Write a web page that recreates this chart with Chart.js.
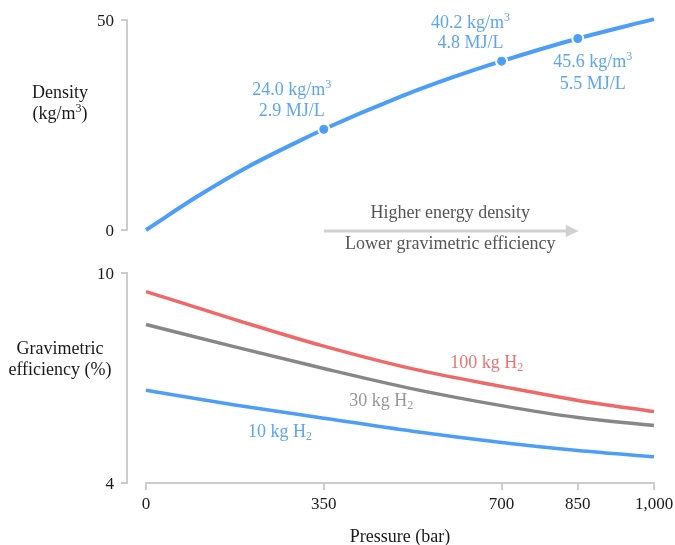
<!DOCTYPE html>
<html>
<head>
<meta charset="utf-8">
<title>Hydrogen storage pressure</title>
<script src="https://cdn.jsdelivr.net/npm/chart.js@4.4.1/dist/chart.umd.min.js"></script>
<style>
  html, body { margin: 0; padding: 0; background: #fff; }
  #wrap { position: relative; width: 675px; height: 545px; }
  #chartDensity { position: absolute; left: 0; top: 0; }
  #chartGrav    { position: absolute; left: 0; top: 260px; }
</style>
</head>
<body>
<div id="wrap">
  <canvas id="chartDensity" width="675" height="260"></canvas>
  <canvas id="chartGrav" width="675" height="285"></canvas>
</div>
<script>
// ── DATA ─────────────────────────────────────────
const pressure    = [0, 100, 200, 300, 350, 500, 600, 700, 850, 1000];
const density     = [0, 7.9, 15.0, 21.1, 24.0, 31.7, 36.2, 40.2, 45.6, 50.2];
const markP       = [350, 700, 850];
const markDensity = [24.0, 40.2, 45.6];
const markEnergy  = [2.9, 4.8, 5.5];

const gravP   = [0, 175, 350, 525, 700, 850, 1000];
const grav100 = [9.47, 8.67, 7.91, 7.26, 6.76, 6.36, 6.04];
const grav30  = [8.53, 7.89, 7.27, 6.69, 6.21, 5.87, 5.64];
const grav10  = [6.65, 6.23, 5.85, 5.48, 5.16, 4.93, 4.75];
const seriesNames = ['100 kg', '30 kg', '10 kg'];

const xTicks       = [0, 350, 700, 850, 1000];
const densityTicks = [0, 50];
const gravTicks    = [4, 10];
const arrowSpan    = [350, 852];

// ── STYLE ────────────────────────────────────────
const FONT  = '"Liberation Serif", "DejaVu Serif", serif';
const MAIN  = '18px ' + FONT;
const SMALL = '12px ' + FONT;
const C = {
  blue: '#4d9ef7', blueTxt: '#5ba5f5',
  red: '#f06868',  redTxt: '#f07171',
  gray: '#878787', grayTxt: '#969696',
  axis: '#cccccc', arrow: '#d0d0d0', arrowTxt: '#555555', tick: '#1a1a1a',
};
Chart.defaults.font.family = FONT;
Chart.defaults.color = C.tick;

const xy = (xs, ys) => xs.map((x, i) => ({ x, y: ys[i] }));

// tulisan dengan superscript / subscript
function drawRich(ctx, parts, x, y, color) {
  ctx.save();
  ctx.fillStyle = color;
  ctx.textBaseline = 'alphabetic';
  ctx.textAlign = 'left';
  let w = 0;
  parts.forEach(p => { ctx.font = p.s ? SMALL : MAIN; w += ctx.measureText(p.t).width; });
  let cx = x - w / 2;
  parts.forEach(p => {
    ctx.font = p.s ? SMALL : MAIN;
    const dy = p.s === 'sup' ? -7.5 : p.s === 'sub' ? 3 : 0;
    ctx.fillText(p.t, cx, y + dy);
    cx += ctx.measureText(p.t).width;
  });
  ctx.restore();
}

// garis sumbu Y yang digeser ke kiri dari area plot
const offsetYAxis = {
  id: 'offsetYAxis',
  afterDraw(chart) {
    const { ctx, chartArea, scales: { y } } = chart;
    const ax = chartArea.left - 19;
    ctx.save();
    ctx.strokeStyle = C.axis;
    ctx.lineWidth = 2;
    ctx.beginPath();
    ctx.moveTo(ax, y.getPixelForValue(y.max) - 1);
    ctx.lineTo(ax, y.getPixelForValue(y.min) + 1);
    y.ticks.forEach(t => {
      const py = y.getPixelForValue(t.value);
      ctx.moveTo(ax - 6, py);
      ctx.lineTo(ax, py);
    });
    ctx.stroke();
    ctx.restore();
  }
};

function sideTitle(lines, baselines) {
  return {
    id: 'sideTitle',
    afterDraw(chart) {
      const cx = chart.chartArea.left - 86;
      lines.forEach((parts, i) => drawRich(chart.ctx, parts, cx, baselines[i], C.tick));
    }
  };
}

function yScale(min, max, ticks) {
  return {
    min, max,
    afterFit: s => { s.width = 146; s.paddingTop = 0; s.paddingBottom = 0; },
    afterBuildTicks: s => { s.ticks = ticks.map(v => ({ value: v })); },
    grid: { display: false, drawTicks: false },
    border: { display: false },
    ticks: { padding: 32, labelOffset: 2, font: { size: 17 }, color: C.tick }
  };
}

// ── CHART 1: Density ─────────────────────────────
const markLabelOffsets = [
  { dx: -32, dy: [-34, -13] },
  { dx: -31, dy: [-33, -13] },
  { dx: 15,  dy: [29, 51] },
];

const densityNotes = {
  id: 'densityNotes',
  afterDraw(chart) {
    const { ctx, scales: { x, y } } = chart;
    markP.forEach((p, i) => {
      const px = x.getPixelForValue(p), py = y.getPixelForValue(markDensity[i]);
      const o = markLabelOffsets[i];
      drawRich(ctx, [{ t: markDensity[i].toFixed(1) + ' kg/m' }, { t: '3', s: 'sup' }], px + o.dx, py + o.dy[0], C.blueTxt);
      drawRich(ctx, [{ t: markEnergy[i].toFixed(1) + ' MJ/L' }], px + o.dx, py + o.dy[1], C.blueTxt);
    });

    // panah tekanan
    const ay = y.getPixelForValue(0) + 1;
    const x0 = x.getPixelForValue(arrowSpan[0]);
    const x1 = x.getPixelForValue(arrowSpan[1]);
    ctx.save();
    ctx.strokeStyle = C.arrow;
    ctx.fillStyle = C.arrow;
    ctx.lineWidth = 3;
    ctx.beginPath();
    ctx.moveTo(x0, ay);
    ctx.lineTo(x1 - 11, ay);
    ctx.stroke();
    ctx.beginPath();
    ctx.moveTo(x1, ay);
    ctx.lineTo(x1 - 13, ay - 6);
    ctx.lineTo(x1 - 13, ay + 6);
    ctx.closePath();
    ctx.fill();
    ctx.restore();
    const mx = (x0 + x1) / 2 - 1;
    drawRich(ctx, [{ t: 'Higher energy density' }], mx, ay - 13, C.arrowTxt);
    drawRich(ctx, [{ t: 'Lower gravimetric efficiency' }], mx, ay + 18, C.arrowTxt);
  }
};

new Chart(document.getElementById('chartDensity'), {
  type: 'line',
  data: {
    datasets: [
      { data: xy(markP, markDensity), showLine: false, pointRadius: 5.5, pointBorderWidth: 2,
        pointBorderColor: '#ffffff', pointBackgroundColor: C.blue, clip: false },
      { data: xy(pressure, density), borderColor: C.blue, borderWidth: 4, pointRadius: 0,
        cubicInterpolationMode: 'monotone', clip: false },
    ]
  },
  options: {
    responsive: false,
    animation: false,
    layout: { autoPadding: false, padding: { top: 20, bottom: 30, left: 0, right: 21 } },
    scales: {
      x: { type: 'linear', min: 0, max: 1000, display: false },
      y: yScale(0, 50, densityTicks)
    },
    plugins: { legend: { display: false }, tooltip: { enabled: false } }
  },
  plugins: [offsetYAxis, densityNotes,
    sideTitle([[{ t: 'Density' }], [{ t: '(kg/m' }, { t: '3', s: 'sup' }, { t: ')' }]], [97.5, 119])]
});

// ── CHART 2: Gravimetric efficiency ──────────────
const seriesLabelAt = [
  { x: 671, y: 7.29, color: C.redTxt },
  { x: 463, y: 6.20, color: C.grayTxt },
  { x: 264, y: 5.31, color: C.blueTxt },
];

const gravNotes = {
  id: 'gravNotes',
  afterDraw(chart) {
    const { ctx, scales: { x, y } } = chart;
    seriesNames.forEach((n, i) => {
      const a = seriesLabelAt[i];
      drawRich(ctx, [{ t: n + ' H' }, { t: '2', s: 'sub' }], x.getPixelForValue(a.x), y.getPixelForValue(a.y), a.color);
    });
  }
};

const line = (ys, color) => ({
  data: xy(gravP, ys), borderColor: color, borderWidth: 3.5, pointRadius: 0,
  cubicInterpolationMode: 'monotone', clip: false
});

new Chart(document.getElementById('chartGrav'), {
  type: 'line',
  data: { datasets: [line(grav10, C.blue), line(grav30, C.gray), line(grav100, C.red)] },
  options: {
    responsive: false,
    animation: false,
    layout: { autoPadding: false, padding: { top: 13, bottom: 0, left: 0, right: 21 } },
    scales: {
      x: {
        type: 'linear', min: 0, max: 1000,
        afterFit: s => { s.height = 62; s.paddingLeft = 0; s.paddingRight = 0; },
        afterBuildTicks: s => { s.ticks = xTicks.map(v => ({ value: v })); },
        grid: { display: true, drawOnChartArea: false, drawTicks: true, tickLength: 7, color: C.axis, lineWidth: 2 },
        border: { display: true, color: C.axis, width: 2 },
        ticks: { padding: 4, font: { size: 17 }, color: C.tick, maxRotation: 0,
                 callback: v => v.toLocaleString('en-US') },
        title: { display: true, text: 'Pressure (bar)', font: { size: 18 }, color: C.tick, padding: { top: 0, bottom: -3 } }
      },
      y: yScale(4, 10, gravTicks)
    },
    plugins: { legend: { display: false }, tooltip: { enabled: false } }
  },
  plugins: [offsetYAxis, gravNotes,
    sideTitle([[{ t: 'Gravimetric' }], [{ t: 'efficiency (%)' }]], [94, 115])]
});
</script>
</body>
</html>
